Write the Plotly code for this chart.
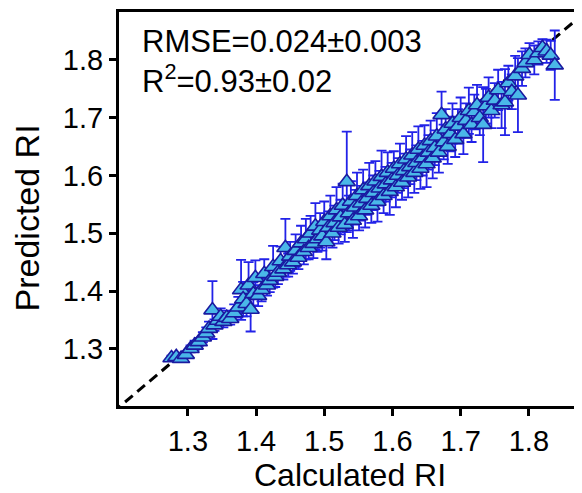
import plotly.graph_objects as go

# calculated RI, predicted RI and its spread
calc_ri = [1.276, 1.283, 1.290, 1.297, 1.304, 1.310, 1.316, 1.322, 1.327, 1.331,
           1.336, 1.339, 1.344, 1.348, 1.352, 1.357, 1.362, 1.368, 1.374, 1.378,
           1.381, 1.386, 1.389, 1.392, 1.396, 1.399, 1.403, 1.408, 1.412, 1.416,
           1.420, 1.425, 1.428, 1.432, 1.436, 1.440, 1.443, 1.447, 1.450, 1.454,
           1.458, 1.462, 1.466, 1.470, 1.473, 1.477, 1.480, 1.484, 1.487, 1.490,
           1.494, 1.497, 1.500, 1.503, 1.506, 1.509, 1.512, 1.515, 1.518, 1.521,
           1.524, 1.527, 1.530, 1.533, 1.536, 1.539, 1.542, 1.545, 1.548, 1.551,
           1.554, 1.557, 1.560, 1.563, 1.566, 1.569, 1.572, 1.575, 1.578, 1.581,
           1.584, 1.587, 1.590, 1.593, 1.596, 1.599, 1.602, 1.605, 1.608, 1.611,
           1.614, 1.617, 1.620, 1.623, 1.626, 1.629, 1.632, 1.635, 1.638, 1.641,
           1.644, 1.647, 1.650, 1.653, 1.656, 1.659, 1.662, 1.665, 1.668, 1.672,
           1.675, 1.678, 1.681, 1.685, 1.688, 1.692, 1.696, 1.700, 1.704, 1.708,
           1.712, 1.716, 1.720, 1.724, 1.728, 1.733, 1.737, 1.741, 1.745, 1.750,
           1.755, 1.760, 1.765, 1.770, 1.775, 1.780, 1.784, 1.790, 1.795, 1.801,
           1.808, 1.814, 1.820, 1.826, 1.832, 1.838]
pred_ri = [1.284, 1.286, 1.283, 1.290, 1.300, 1.306, 1.312, 1.320, 1.327, 1.335,
           1.367, 1.341, 1.349, 1.356, 1.347, 1.354, 1.352, 1.362, 1.372, 1.402,
           1.386, 1.378, 1.410, 1.368, 1.395, 1.423, 1.392, 1.402, 1.430, 1.410,
           1.418, 1.442, 1.425, 1.432, 1.452, 1.438, 1.475, 1.445, 1.460, 1.450,
           1.470, 1.458, 1.483, 1.468, 1.490, 1.475, 1.500, 1.482, 1.512, 1.490,
           1.505, 1.495, 1.520, 1.485, 1.510, 1.530, 1.500, 1.518, 1.540, 1.510,
           1.528, 1.548, 1.515, 1.589, 1.535, 1.555, 1.522, 1.545, 1.565, 1.530,
           1.552, 1.575, 1.540, 1.560, 1.582, 1.548, 1.570, 1.590, 1.555, 1.578,
           1.598, 1.565, 1.585, 1.605, 1.572, 1.592, 1.612, 1.580, 1.600, 1.620,
           1.588, 1.608, 1.628, 1.597, 1.615, 1.635, 1.605, 1.622, 1.645, 1.612,
           1.630, 1.652, 1.620, 1.640, 1.660, 1.630, 1.648, 1.668, 1.640, 1.705,
           1.658, 1.680, 1.650, 1.672, 1.690, 1.662, 1.685, 1.700, 1.672, 1.695,
           1.712, 1.688, 1.710, 1.722, 1.700, 1.688, 1.720, 1.735, 1.712, 1.730,
           1.748, 1.722, 1.727, 1.760, 1.745, 1.772, 1.739, 1.785, 1.795, 1.809,
           1.800, 1.812, 1.821, 1.815, 1.808, 1.791]
pred_err = [0.004, 0.004, 0.005, 0.005, 0.006, 0.008, 0.007, 0.009, 0.010, 0.012,
            0.050, 0.010, 0.012, 0.014, 0.010, 0.012, 0.010, 0.015, 0.018, 0.052,
            0.030, 0.022, 0.040, 0.038, 0.020, 0.030, 0.018, 0.020, 0.025, 0.018,
            0.020, 0.036, 0.018, 0.020, 0.025, 0.018, 0.050, 0.020, 0.025, 0.020,
            0.028, 0.020, 0.030, 0.022, 0.035, 0.020, 0.030, 0.025, 0.040, 0.022,
            0.030, 0.025, 0.035, 0.030, 0.028, 0.035, 0.025, 0.030, 0.040, 0.028,
            0.030, 0.038, 0.030, 0.087, 0.030, 0.035, 0.030, 0.030, 0.040, 0.025,
            0.030, 0.035, 0.030, 0.028, 0.040, 0.030, 0.030, 0.035, 0.035, 0.030,
            0.045, 0.030, 0.030, 0.035, 0.040, 0.030, 0.030, 0.035, 0.030, 0.035,
            0.030, 0.030, 0.040, 0.035, 0.030, 0.040, 0.035, 0.030, 0.040, 0.035,
            0.030, 0.035, 0.040, 0.030, 0.035, 0.035, 0.030, 0.040, 0.035, 0.040,
            0.030, 0.035, 0.030, 0.030, 0.035, 0.030, 0.030, 0.035, 0.035, 0.030,
            0.040, 0.030, 0.030, 0.035, 0.030, 0.065, 0.030, 0.035, 0.030, 0.030,
            0.035, 0.040, 0.057, 0.030, 0.030, 0.035, 0.064, 0.030, 0.025, 0.020,
            0.025, 0.020, 0.015, 0.020, 0.025, 0.060]

diag = [1.19, 1.89]  # y = x reference line
tick_vals = [1.3, 1.4, 1.5, 1.6, 1.7, 1.8]

font_family = "Liberation Sans, Arial, sans-serif"

fig = go.Figure()

fig.add_trace(go.Scatter(
    x=diag, y=diag, mode="lines",
    line=dict(color="black", width=3, dash="10px,6px"),
    showlegend=False, hoverinfo="skip"
))

fig.add_trace(go.Scatter(
    x=calc_ri, y=pred_ri, mode="markers",
    marker=dict(symbol="triangle-up", size=15, color="#4ab7e8",
                line=dict(color="#1a1aa0", width=1.6)),
    error_y=dict(type="data", array=pred_err, visible=True,
                 color="#2222e8", thickness=1.8, width=5),
    showlegend=False
))

axis_style = dict(
    showline=True, linecolor="black", linewidth=3, mirror=True,
    ticks="outside", ticklen=7, tickwidth=2.5, tickcolor="black",
    tickvals=tick_vals, tickformat=".1f",
    showgrid=False, zeroline=False, automargin=False,
    tickfont=dict(size=29, color="black", family=font_family),
)

fig.update_xaxes(range=[1.199, 1.875], **axis_style)
fig.update_yaxes(range=[1.201, 1.883], **axis_style)

# axis titles as annotations so they can be placed exactly
fig.add_annotation(
    x=0.5, y=-0.175, xref="paper", yref="paper", xanchor="center", yanchor="middle",
    text="Calculated RI", showarrow=False,
    font=dict(size=32, color="black", family=font_family)
)
fig.add_annotation(
    x=-0.2, y=0.478, xref="paper", yref="paper", xanchor="center", yanchor="middle",
    text="Predicted RI", textangle=-90, showarrow=False,
    font=dict(size=34, color="black", family=font_family)
)

fig.add_annotation(
    x=0.045, y=0.975, xref="paper", yref="paper", xanchor="left", yanchor="top",
    text="RMSE=0.024±0.003<br>R<sup>2</sup>=0.93±0.02",
    showarrow=False, align="left",
    font=dict(size=31, color="black", family=font_family)
)

# the page adds an 8px body margin, so the figure margins are shifted by that much
fig.update_layout(
    width=582, height=493,
    margin=dict(l=111, r=10, t=4, b=95),
    plot_bgcolor="white", paper_bgcolor="white",
    font=dict(family=font_family, color="black"),
)

fig.write_html("out.html")
